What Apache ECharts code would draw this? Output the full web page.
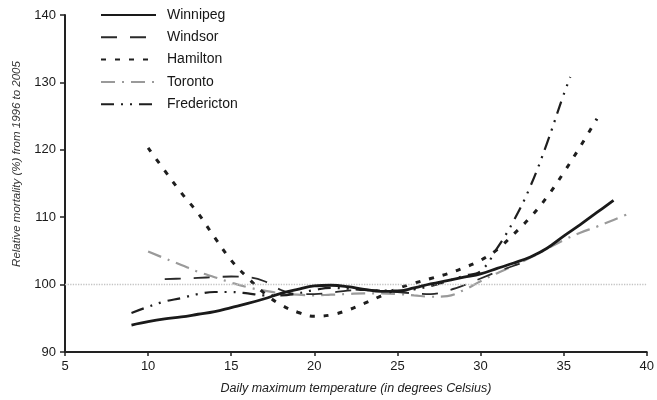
<!DOCTYPE html>
<html>
<head>
<meta charset="utf-8">
<script src="https://cdn.jsdelivr.net/npm/echarts@6/dist/echarts.min.js"></script>
<style>
html,body{margin:0;padding:0;background:#fff;}
#chart{width:657px;height:400px;}
</style>
</head>
<body>
<div id="chart"></div>
<script>
const seriesNames = ['Winnipeg', 'Windsor', 'Hamilton', 'Toronto', 'Fredericton'];

const xTicks = [5, 10, 15, 20, 25, 30, 35, 40];
const yTicks = [90, 100, 110, 120, 130, 140];

const winnipegT = [9,10,11,12,13,14,15,16,17,18,19,20,21,22,23,24,25,26,27,28,29,30,31,32,33,34,35,36,37,38];
const winnipegV = [94.0,94.5,94.9,95.2,95.6,96.0,96.6,97.2,97.9,98.7,99.3,99.8,99.9,99.7,99.3,99.0,99.0,99.5,100.1,100.6,101.1,101.6,102.4,103.2,104.1,105.4,107.2,108.9,110.7,112.5];

const windsorT = [11,12,13,14,15,16,17,18,19,20,21,22,23,24,25,26,27,28,29,30,31,32,33];
const windsorV = [100.8,100.9,101.0,101.1,101.2,101.1,100.5,99.2,98.6,98.6,98.8,99.1,99.2,99.1,98.9,98.7,98.6,99.1,99.9,100.9,101.9,102.8,103.6];

const hamiltonT = [10,11,12,13,14,15,16,17,18,19,20,21,22,23,24,25,26,27,28,29,30,31,32,33,34,35,36,37];
const hamiltonV = [120.3,116.9,113.6,110.6,107.0,103.6,101.0,98.7,97.0,95.9,95.3,95.5,96.2,97.2,98.3,99.4,100.2,100.9,101.6,102.5,103.6,105.2,107.5,110.0,113.0,116.6,120.5,124.6];

const torontoT = [10,11,12,13,14,15,16,17,18,19,20,21,22,23,24,25,26,27,28,29,30,31,32,33,34,35,36,37,38,39];
const torontoV = [104.9,103.9,102.9,101.9,101.1,100.3,99.6,99.1,98.7,98.5,98.4,98.5,98.6,98.7,98.7,98.6,98.4,98.2,98.3,99.2,100.5,101.7,102.8,104.0,105.3,106.6,107.7,108.6,109.6,110.6];

const frederictonT = [9,10,11,12,13,14,15,16,17,18,19,20,21,22,23,24,25,26,27,28,29,30,31,32,33,34,35,35.4];
const frederictonV = [95.8,96.7,97.5,98.0,98.6,98.9,98.9,98.7,98.4,98.4,98.7,99.2,99.5,99.4,99.2,99.1,99.1,99.3,99.8,100.5,101.3,102.0,105.4,109.5,114.6,121.0,128.2,130.8];

const referenceLevel = 100;

function pairs(t, v) { return t.map((x, i) => [x, v[i]]); }

const FONT = '"Liberation Sans", Arial, sans-serif';

const chart = echarts.init(document.getElementById('chart'), null, {renderer: 'canvas'});

const option = {
  animation: false,
  backgroundColor: '#fff',
  grid: {left: 65, right: 4, top: 15, bottom: 47, containLabel: false},
  legend: {
    orient: 'vertical',
    left: 95,
    top: 3,
    itemWidth: 55,
    itemHeight: 14,
    itemGap: 8.3,
    data: seriesNames,
    itemStyle: {opacity: 0},
    textStyle: {fontFamily: FONT, fontSize: 14, color: '#161616', padding: [0, 0, 0, 6]}
  },
  xAxis: {
    type: 'value',
    min: 5, max: 40, interval: 5,
    name: 'Daily maximum temperature (in degrees Celsius)',
    nameLocation: 'middle',
    nameGap: 30,
    nameTextStyle: {fontFamily: FONT, fontSize: 12.5, fontStyle: 'italic', color: '#222'},
    axisLine: {lineStyle: {color: '#222', width: 2}},
    axisTick: {show: true, length: 4, lineStyle: {color: '#222', width: 1.5}},
    axisLabel: {fontFamily: FONT, fontSize: 13, color: '#1a1a1a', margin: 8,
      formatter: v => xTicks.includes(v) ? String(v) : ''},
    splitLine: {show: false}
  },
  yAxis: {
    type: 'value',
    min: 90, max: 140, interval: 10,
    axisLine: {show: true, lineStyle: {color: '#222', width: 2}},
    axisTick: {show: true, length: 5, lineStyle: {color: '#222', width: 1.5}},
    axisLabel: {fontFamily: FONT, fontSize: 13, color: '#1a1a1a', margin: 9,
      formatter: v => yTicks.includes(v) ? String(v) : ''},
    splitLine: {show: false}
  },
  graphic: [{
    type: 'text',
    x: 17, y: 164,
    rotation: Math.PI / 2,
    style: {
      text: 'Relative mortality (%) from 1996 to 2005',
      font: 'italic 11.5px ' + FONT,
      fill: '#333',
      textAlign: 'center',
      textVerticalAlign: 'middle'
    }
  }],
  series: [
    {
      name: 'Winnipeg', type: 'line', smooth: 0.4, symbol: 'none', z: 5,
      data: pairs(winnipegT, winnipegV),
      lineStyle: {color: '#1a1a1a', width: 2.8, type: 'solid'},
      itemStyle: {color: '#1a1a1a'},
      markLine: {
        silent: true, symbol: 'none', label: {show: false},
        lineStyle: {color: '#c4c4c4', type: 'dotted', width: 1.3},
        data: [{yAxis: referenceLevel}]
      }
    },
    {
      name: 'Windsor', type: 'line', smooth: 0.4, symbol: 'none', z: 4,
      data: pairs(windsorT, windsorV),
      lineStyle: {color: '#2a2a2a', width: 1.8, type: [16, 13]},
      itemStyle: {color: '#2a2a2a'}
    },
    {
      name: 'Hamilton', type: 'line', smooth: 0.4, symbol: 'none', z: 4,
      data: pairs(hamiltonT, hamiltonV),
      lineStyle: {color: '#1e1e1e', width: 3, type: [5, 9]},
      itemStyle: {color: '#1e1e1e'}
    },
    {
      name: 'Toronto', type: 'line', smooth: 0.4, symbol: 'none', z: 3,
      data: pairs(torontoT, torontoV),
      lineStyle: {color: '#9a9a9a', width: 2.2, type: [14, 7, 2, 7]},
      itemStyle: {color: '#9a9a9a'}
    },
    {
      name: 'Fredericton', type: 'line', smooth: 0.4, symbol: 'none', z: 4,
      data: pairs(frederictonT, frederictonV),
      lineStyle: {color: '#1e1e1e', width: 2.2, type: [13, 7, 2, 7, 2, 7]},
      itemStyle: {color: '#1e1e1e'}
    }
  ]
};

chart.setOption(option);
</script>
</body>
</html>
